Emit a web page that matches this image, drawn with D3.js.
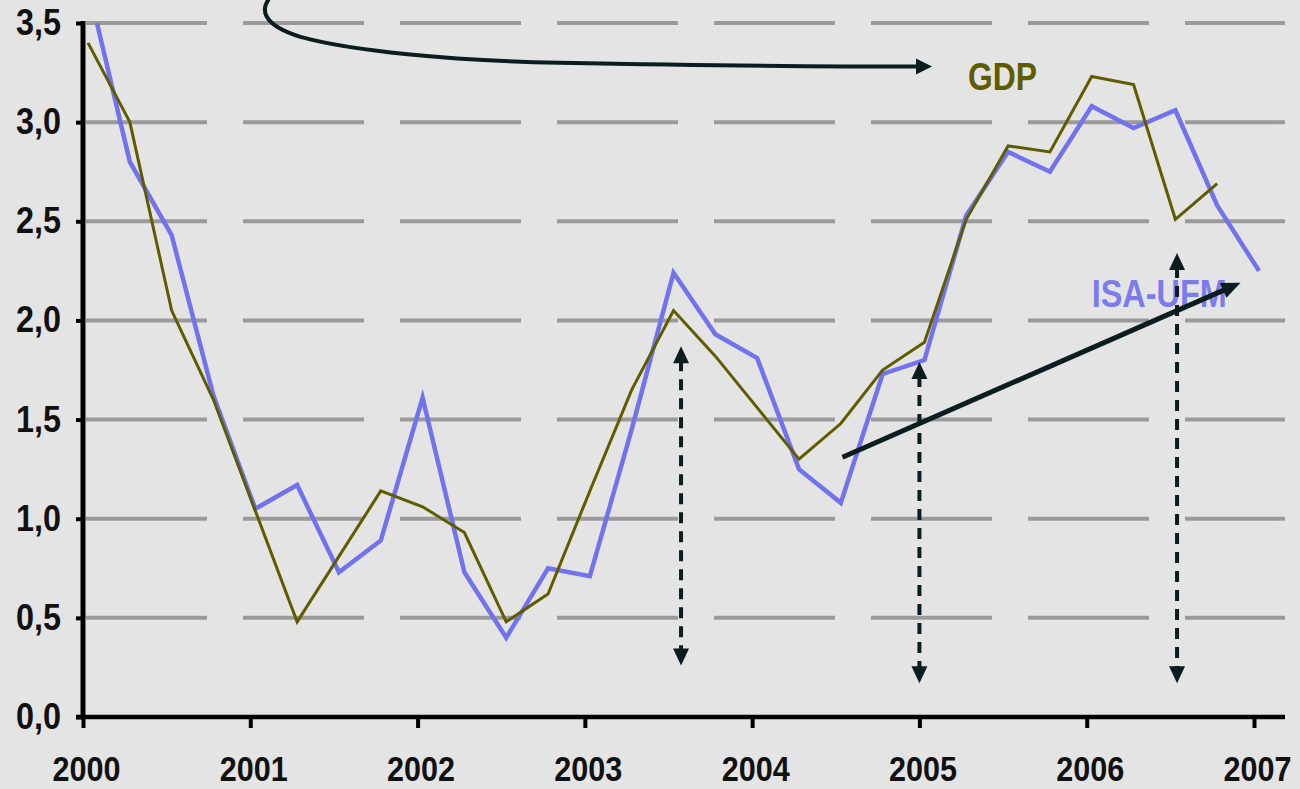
<!DOCTYPE html>
<html>
<head>
<meta charset="utf-8">
<script src="https://cdn.jsdelivr.net/npm/d3@7"></script>
<style>
html, body { margin: 0; padding: 0; background: #e4e4e4; }
svg { display: block; }
text { font-family: "Liberation Sans", Arial, sans-serif; font-weight: bold; }
</style>
</head>
<body>
<svg id="chart" width="1300" height="789"></svg>
<script>
/*global d3*/

// quarterly observations, 2000Q1 .. 2007Q1
var quarters = ["2000Q1","2000Q2","2000Q3","2000Q4","2001Q1","2001Q2","2001Q3","2001Q4",
                "2002Q1","2002Q2","2002Q3","2002Q4","2003Q1","2003Q2","2003Q3","2003Q4",
                "2004Q1","2004Q2","2004Q3","2004Q4","2005Q1","2005Q2","2005Q3","2005Q4",
                "2006Q1","2006Q2","2006Q3","2006Q4","2007Q1"];
var gdp    = [3.40, 3.00, 2.05, 1.60, 1.04, 0.48, 0.81, 1.14, 1.06, 0.93, 0.48, 0.62, 1.14, 1.65, 2.05,
              1.82, 1.56, 1.30, 1.48, 1.75, 1.89, 2.51, 2.88, 2.85, 3.23, 3.19, 2.51, 2.69, null];
var isaUfm = [3.69, 2.80, 2.43, 1.62, 1.05, 1.17, 0.73, 0.89, 1.61, 0.73, 0.40, 0.75, 0.71, 1.45, 2.24,
              1.93, 1.81, 1.25, 1.08, 1.73, 1.80, 2.53, 2.85, 2.75, 3.08, 2.97, 3.06, 2.58, 2.25];
var yTicks = [0, 0.5, 1, 1.5, 2, 2.5, 3, 3.5];
var xYears = [2000, 2001, 2002, 2003, 2004, 2005, 2006, 2007];

// annotations (in data units: year, value)
var vArrows = [
    {t: 2003.575, top: 1.87, bottom: 0.26},
    {t: 2005.0,   top: 1.79, bottom: 0.17},
    {t: 2006.54,  top: 2.34, bottom: 0.17}
];
var trendArrow = {from: [2004.54, 1.31], to: [2006.92, 2.19]};
var curveArrow = [[2001.13, 3.64], [2001.05, 3.57], [2001.07, 3.49], [2001.30, 3.43],
                  [2001.60, 3.36], [2002.19, 3.31], [2002.85, 3.30],
                  [2003.51, 3.29], [2004.29, 3.28], [2004.99, 3.28]];
var curveTip = [2005.075, 3.28];
var labels = [
    {text: "GDP",     t: 2005.29, v: 3.16, color: "#5f5c00", len: 69},
    {text: "ISA-UFM", t: 2006.03, v: 2.07, color: "#7b7bec", len: 135}
];

var QUARTER_POS = 0.03;
function qTime(q) {
    return +q.slice(0, 4) + (+q.slice(5) - 1) / 4 + QUARTER_POS;
}

var svg = d3.select("#chart");
var x = d3.scaleLinear().domain([2000, 2007]).range([83, 1254]);
var y = d3.scaleLinear().domain([0, 3.5]).range([717, 23]);
var plotRight = 1285;
var ink = "#0b1d1f";

var comma = d3.formatLocale({decimal: ",", thousands: ".", grouping: [3], currency: ["", ""]});
var fmt = comma.format(".1f");

svg.append("rect").attr("width", 1300).attr("height", 789).attr("fill", "#e4e4e4");

svg.append("clipPath").attr("id", "plot")
    .append("rect")
    .attr("x", x(2000)).attr("y", y(3.5))
    .attr("width", plotRight - x(2000)).attr("height", y(0) - y(3.5));

// dashed grid
svg.append("g").selectAll("line")
    .data(yTicks.filter(function(d) { return d > 0; }))
    .enter().append("line")
    .attr("x1", x(2000) + 3).attr("x2", plotRight)
    .attr("y1", function(d) { return y(d); })
    .attr("y2", function(d) { return y(d); })
    .attr("stroke", "#9a9a9a")
    .attr("stroke-width", 4)
    .attr("stroke-dasharray", "121,36");

// series
var pts = quarters.map(function(q, i) { return {t: qTime(q), g: gdp[i], s: isaUfm[i]}; });
var lines = svg.append("g").attr("clip-path", "url(#plot)");

lines.append("path")
    .datum(pts)
    .attr("fill", "none")
    .attr("stroke", "#7272ee")
    .attr("stroke-width", 4.5)
    .attr("stroke-linejoin", "miter")
    .attr("d", d3.line()
        .defined(function(d) { return d.s != null; })
        .x(function(d) { return x(d.t); })
        .y(function(d) { return y(d.s); }));

lines.append("path")
    .datum(pts)
    .attr("fill", "none")
    .attr("stroke", "#5f5c00")
    .attr("stroke-width", 3)
    .attr("d", d3.line()
        .defined(function(d) { return d.g != null; })
        .x(function(d) { return x(d.t); })
        .y(function(d) { return y(d.g); }));

// axes
var yAxis = svg.append("g")
    .attr("transform", "translate(" + x(2000) + ",0)")
    .call(d3.axisLeft(y).tickValues(yTicks).tickSize(7).tickPadding(15).tickSizeOuter(0).tickFormat(fmt));
yAxis.select(".domain").remove();
yAxis.selectAll(".tick line").attr("stroke", "#000").attr("stroke-width", 4);
yAxis.selectAll(".tick text")
    .attr("fill", "#111")
    .style("font-size", "36px")
    .attr("textLength", 45)
    .attr("lengthAdjust", "spacingAndGlyphs");

var xAxis = svg.append("g")
    .attr("transform", "translate(0," + y(0) + ")")
    .call(d3.axisBottom(x).tickValues(xYears).tickSize(11).tickPadding(28).tickSizeOuter(0).tickFormat(d3.format("d")));
xAxis.select(".domain").remove();
xAxis.selectAll(".tick line").attr("stroke", "#000").attr("stroke-width", 4);
xAxis.selectAll(".tick text")
    .attr("fill", "#111")
    .attr("dx", 3)
    .style("font-size", "35px")
    .attr("textLength", 68)
    .attr("lengthAdjust", "spacingAndGlyphs");

svg.append("line")
    .attr("x1", x(2000)).attr("x2", x(2000))
    .attr("y1", y(3.5) - 2).attr("y2", y(0) + 2)
    .attr("stroke", "#000").attr("stroke-width", 5);
svg.append("line")
    .attr("x1", x(2000) - 7).attr("x2", plotRight)
    .attr("y1", y(0)).attr("y2", y(0))
    .attr("stroke", "#000").attr("stroke-width", 4.5);

// series labels
svg.append("g").selectAll("text")
    .data(labels)
    .enter().append("text")
    .attr("x", function(d) { return x(d.t); })
    .attr("y", function(d) { return y(d.v); })
    .attr("fill", function(d) { return d.color; })
    .style("font-size", "38px")
    .attr("textLength", function(d) { return d.len; })
    .attr("lengthAdjust", "spacingAndGlyphs")
    .text(function(d) { return d.text; });

// arrows
function head(g, tip, ang, len, half) {
    var bx = tip[0] - len * Math.cos(ang), by = tip[1] - len * Math.sin(ang);
    var nx = -Math.sin(ang) * half, ny = Math.cos(ang) * half;
    g.append("path")
        .attr("d", "M" + tip[0] + "," + tip[1] +
            "L" + (bx + nx) + "," + (by + ny) +
            "L" + (bx - nx) + "," + (by - ny) + "Z")
        .attr("fill", ink);
}

var ann = svg.append("g");

vArrows.forEach(function(a) {
    var xp = x(a.t), y1 = y(a.top), y2 = y(a.bottom);
    ann.append("line")
        .attr("x1", xp).attr("x2", xp)
        .attr("y1", y1 + 14).attr("y2", y2 - 14)
        .attr("stroke", ink).attr("stroke-width", 4)
        .attr("stroke-dasharray", "11,8");
    head(ann, [xp, y1], -Math.PI / 2, 17, 8);
    head(ann, [xp, y2], Math.PI / 2, 17, 8);
});

var f = [x(trendArrow.from[0]), y(trendArrow.from[1])];
var tp = [x(trendArrow.to[0]), y(trendArrow.to[1])];
var ang = Math.atan2(tp[1] - f[1], tp[0] - f[0]);
ann.append("line")
    .attr("x1", f[0]).attr("y1", f[1])
    .attr("x2", tp[0] - 14 * Math.cos(ang)).attr("y2", tp[1] - 14 * Math.sin(ang))
    .attr("stroke", ink).attr("stroke-width", 5);
head(ann, tp, ang, 19, 8);

var c = curveArrow.map(function(p) { return [x(p[0]), y(p[1])]; });
var cp = d3.path();
cp.moveTo(c[0][0], c[0][1]);
cp.bezierCurveTo(c[1][0], c[1][1], c[2][0], c[2][1], c[3][0], c[3][1]);
cp.bezierCurveTo(c[4][0], c[4][1], c[5][0], c[5][1], c[6][0], c[6][1]);
cp.bezierCurveTo(c[7][0], c[7][1], c[8][0], c[8][1], c[9][0], c[9][1]);
ann.append("path")
    .attr("d", cp.toString())
    .attr("fill", "none")
    .attr("stroke", ink)
    .attr("stroke-width", 4);
head(ann, [x(curveTip[0]), y(curveTip[1])], 0, 16, 8);
</script>
</body>
</html>
